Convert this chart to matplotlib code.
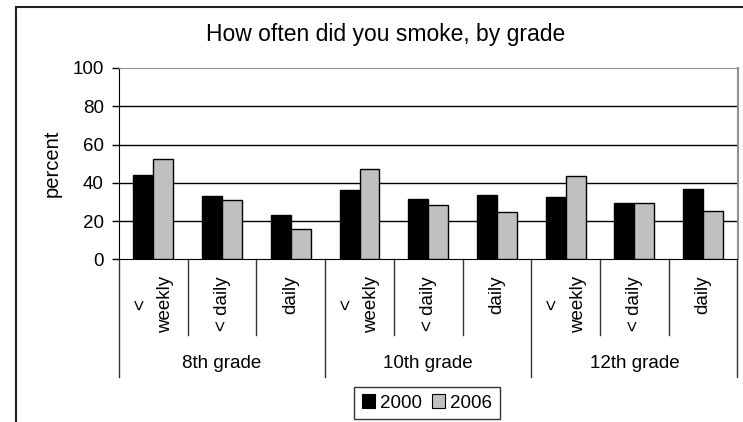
import numpy as np
import matplotlib
matplotlib.use("Agg")
from matplotlib import pyplot as plt
from matplotlib.patches import Rectangle
from matplotlib.lines import Line2D

plt.rcParams["font.family"] = ["Liberation Sans", "DejaVu Sans"]

GRADES = ["8th grade", "10th grade", "12th grade"]
FREQS = ["<\nweekly", "< daily", "daily"]
SERIES = ["2000", "2006"]
VALUES_2000 = [44, 33, 23.3, 36, 31.3, 33.7, 32.8, 29.5, 36.8]
VALUES_2006 = [52.5, 31, 15.8, 47, 28.6, 24.7, 43.8, 29.3, 25.3]
COLORS = ["#000000", "#c0c0c0"]
Y_TICKS = [0, 20, 40, 60, 80, 100]

W, H = 743, 422


def fx(px):
    return px / W


def fy(py):
    return (H - py) / H


fig = plt.figure(figsize=(W / 100, H / 100), dpi=100)
fig.patch.set_facecolor("white")

# outer chart border (cut at right and bottom like the source image)
fig.patches.append(Rectangle((fx(16), -0.1), 1.2, fy(7) + 0.1, transform=fig.transFigure,
                             fill=False, edgecolor="#222222", linewidth=1.5))

ax = fig.add_axes([fx(119), fy(259.3), fx(737.5) - fx(119), fy(68) - fy(259.3)])

n = len(VALUES_2000)
x = np.arange(n)
bw = 0.29
ax.bar(x - bw / 2, VALUES_2000, bw, color=COLORS[0], edgecolor="black", linewidth=1, zorder=3)
ax.bar(x + bw / 2, VALUES_2006, bw, color=COLORS[1], edgecolor="black", linewidth=1, zorder=3)

ax.set_xlim(-0.5, n - 0.5)
ax.set_ylim(0, 100)
ax.set_yticks(Y_TICKS)
ax.set_xticks([])
ax.tick_params(axis="y", direction="out", length=5, width=1, pad=6, labelsize=13.5)
for yv in Y_TICKS[1:-1]:
    ax.axhline(yv, color="black", linewidth=1, zorder=1)

ax.spines["left"].set_color("black")
ax.spines["bottom"].set_color("black")
ax.spines["top"].set_color("#909090")
ax.spines["right"].set_color("#909090")
ax.spines["right"].set_linewidth(1.5)

# category labels and dividers below the axis
trans = ax.get_xaxis_transform()
y_small = -(335 - 259.3) / (259.3 - 68)
y_big = -(377 - 259.3) / (259.3 - 68)
y_lab = -(276 - 259.3) / (259.3 - 68)
y_grade = -(363 - 259.3) / (259.3 - 68)
for i in range(n + 1):
    bottom = y_big if i % 3 == 0 else y_small
    ax.add_line(Line2D([i - 0.5, i - 0.5], [0, bottom], transform=trans, color="#333333",
                       linewidth=1, clip_on=False))
for i in range(n):
    ax.text(i, y_lab, FREQS[i % 3], transform=trans, rotation=90, ha="center", va="top",
            multialignment="center", fontsize=13.5, linespacing=1.6)
for g, name in enumerate(GRADES):
    ax.text(g * 3 + 1, y_grade, name, transform=trans, ha="center", va="center", fontsize=13.5)

fig.text(fx(52), fy(163), "percent", rotation=90, ha="center", va="center", fontsize=14.5)
fig.text(fx(386), fy(34), "How often did you smoke, by grade", ha="center", va="center",
         fontsize=16.5)

handles = [Rectangle((0, 0), 1, 1, facecolor=c, edgecolor="black", linewidth=0.8) for c in COLORS]
leg = fig.legend(handles, SERIES, loc="center", bbox_to_anchor=(fx(427), fy(403)), ncol=2,
                 fontsize=13.5, frameon=True, fancybox=False, edgecolor="black",
                 handlelength=0.7, handleheight=0.7, handletextpad=0.3, columnspacing=0.5,
                 borderpad=0.4)
leg.get_frame().set_linewidth(1)

fig.savefig("out.png", dpi=100)
